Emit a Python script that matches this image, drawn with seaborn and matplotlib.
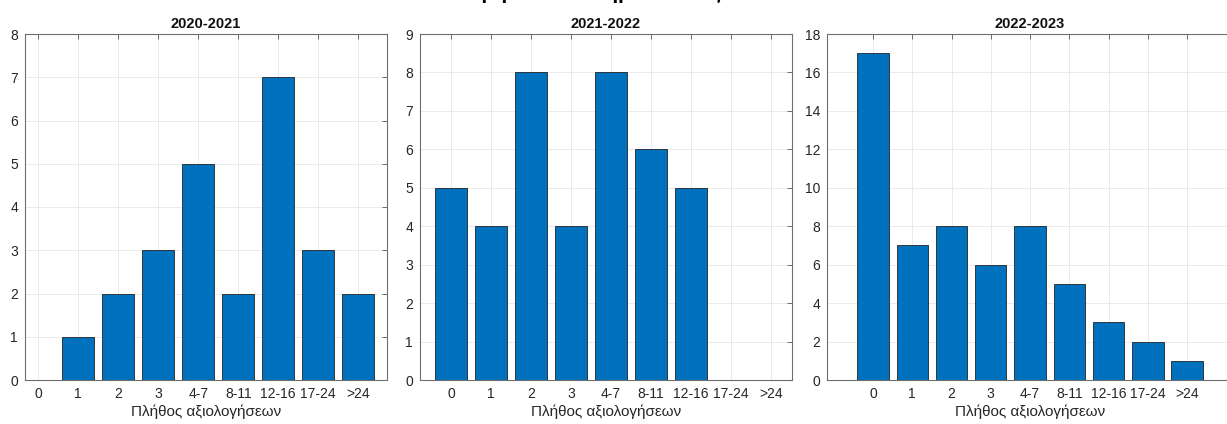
import numpy as np
import matplotlib
matplotlib.use('Agg')
import matplotlib.pyplot as plt
import seaborn as sns
import pandas as pd

# Values
categories = ['0', '1', '2', '3', '4-7', '8-11', '12-16', '17-24', '>24']
counts_2020_2021 = [0, 1, 2, 3, 5, 2, 7, 3, 2]
counts_2021_2022 = [5, 4, 8, 4, 8, 6, 5, 0, 0]
counts_2022_2023 = [17, 7, 8, 6, 8, 5, 3, 2, 1]
years = ['2020-2021', '2021-2022', '2022-2023']
y_top = [8, 9, 18]
y_step = [1, 1, 2]

sns.set_style("white")
plt.rcParams['font.family'] = ['Liberation Sans', 'DejaVu Sans']

fig = plt.figure(figsize=(12.27, 4.24), dpi=100)

# axes boxes in pixels (left, right), shared top/bottom
W, H = 1227, 424
boxes = [(25, 387), (420, 792), (827, 1250)]
xlims = [(-0.33, 8.72), (-0.78, 8.53), (-1.17, 9.6)]
label_x = [0.5, 0.5, 0.48]   # last panel runs past the right edge
top_px, bot_px = 34, 380

all_counts = [counts_2020_2021, counts_2021_2022, counts_2022_2023]

for i in range(3):
    l, r = boxes[i]
    ax = fig.add_axes([l / W, (H - bot_px) / H, (r - l) / W, (bot_px - top_px) / H])
    df = pd.DataFrame({'cat': categories, 'n': all_counts[i]})
    sns.barplot(data=df, x='cat', y='n', order=categories, color='#0072BD',
                saturation=1, edgecolor='#222222', linewidth=0.6, width=0.8, ax=ax)
    ax.set_xlim(*xlims[i])
    ax.set_ylim(0, y_top[i])
    ax.set_yticks(np.arange(0, y_top[i] + 1, y_step[i]))
    ax.set_axisbelow(True)
    ax.grid(True, axis='both', color='#e6e6e6', linewidth=0.6)
    ax.tick_params(direction='in', length=3.5, width=0.6, top=True, right=True,
                   labelsize=10, colors='#262626', pad=5)
    ax.tick_params(axis='both', color='#555555')
    for s in ax.spines.values():
        s.set_color('#6e6e6e')
        s.set_linewidth(0.8)
        s.set_visible(True)
    ax.set_title(years[i], fontsize=10.5, fontweight='bold', pad=4, color='#111111',
                 x=label_x[i])
    ax.set_xlabel('Πλήθος αξιολογήσεων', fontsize=11, color='#262626', labelpad=3)
    ax.xaxis.set_label_coords(label_x[i], -0.07)
    ax.set_ylabel('')

# suptitle cut off at the top of the picture, only the descenders show
fig.text(0.46, 1.003, 'Κατανομή ανά ακαδημαϊκό έτος', ha='center', va='baseline',
         fontsize=15, fontweight='bold', color='black')

fig.savefig('out.png', dpi=100)
